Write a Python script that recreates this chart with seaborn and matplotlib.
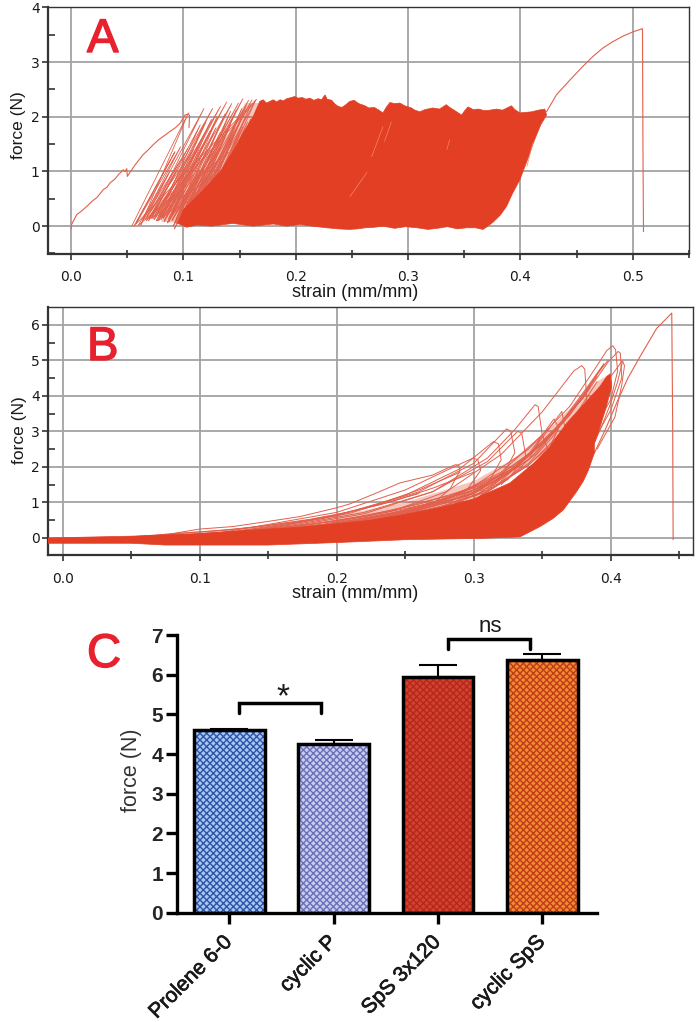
import matplotlib
matplotlib.use('Agg')
import matplotlib.pyplot as plt
import matplotlib.patheffects as pe
import matplotlib.transforms as mtrans
import pandas as pd
import seaborn as sns

# panel A, single pull before cycling and after the last cycle
a_load_strain = [0.0, 0.0005, 0.005, 0.009, 0.014, 0.019, 0.0229, 0.0288, 0.032, 0.0347, 0.039, 0.0421, 0.0465, 0.048, 0.0496, 0.0501, 0.053, 0.057, 0.0643, 0.069, 0.0732, 0.078, 0.0821, 0.088, 0.093, 0.097, 0.1014, 0.1044, 0.1055, 0.105]
a_load_force = [-0.05, 0.03, 0.21, 0.27, 0.36, 0.46, 0.52, 0.67, 0.71, 0.79, 0.86, 0.94, 1.03, 1.0, 1.05, 0.91, 1.0, 1.12, 1.31, 1.4, 1.49, 1.58, 1.64, 1.73, 1.8, 1.88, 2.03, 2.05, 2.02, 1.8]
a_fail_strain = [0.4232, 0.432, 0.444, 0.4555, 0.4644, 0.473, 0.482, 0.491, 0.5, 0.5086, 0.509, 0.5095]
a_fail_force = [2.09, 2.4, 2.67, 2.92, 3.1, 3.25, 3.37, 3.47, 3.55, 3.61, 1.5, -0.1]

# panel A, sparse cycles left of the solid block
a_base_strain = [0.054, 0.062, 0.069, 0.075, 0.08, 0.085, 0.09, 0.094, 0.098, 0.102, 0.105,
                 0.056, 0.058, 0.064, 0.068, 0.073, 0.078, 0.082, 0.086, 0.09, 0.094, 0.098,
                 0.06, 0.066, 0.072, 0.077, 0.082, 0.087, 0.092, 0.096, 0.1, 0.104,
                 0.071, 0.076, 0.081, 0.086, 0.091, 0.096, 0.101, 0.106, 0.11, 0.113, 0.116,
                 0.067, 0.07, 0.074, 0.078, 0.083, 0.088, 0.093, 0.097, 0.101,
                 0.079, 0.083, 0.087, 0.092, 0.097, 0.1, 0.104, 0.108, 0.112, 0.116, 0.12]
a_peak_strain = [0.1045, 0.1183, 0.126, 0.133, 0.1385, 0.143, 0.149, 0.153, 0.158, 0.161, 0.165,
                 0.0925, 0.0975, 0.104, 0.109, 0.113, 0.118, 0.122, 0.127, 0.132, 0.136, 0.14,
                 0.088, 0.094, 0.1, 0.105, 0.109, 0.114, 0.119, 0.124, 0.128, 0.132,
                 0.115, 0.12, 0.125, 0.13, 0.137, 0.142, 0.147, 0.152, 0.156, 0.16, 0.163,
                 0.084, 0.087, 0.092, 0.096, 0.101, 0.106, 0.111, 0.115, 0.119,
                 0.119, 0.124, 0.129, 0.133, 0.138, 0.142, 0.146, 0.15, 0.153, 0.157, 0.16]
a_peak_force = [2.07, 2.15, 2.15, 2.19, 2.27, 2.24, 2.25, 2.33, 2.3, 2.31, 2.32,
                1.36, 1.45, 1.42, 1.4, 1.42, 1.38, 1.4, 1.36, 1.42, 1.38, 1.35,
                1.0, 1.02, 0.98, 1.0, 0.96, 1.02, 0.98, 1.0, 0.95, 0.98,
                1.85, 1.9, 1.95, 2.0, 2.05, 2.1, 2.12, 2.15, 2.2, 2.22, 2.25,
                0.6, 0.62, 0.65, 0.62, 0.66, 0.6, 0.63, 0.65, 0.62,
                1.7, 1.75, 1.8, 1.72, 1.78, 1.85, 1.8, 1.88, 1.82, 1.9, 1.95]
a_base_force = [0.0, 0.02, 0.1, 0.15, 0.12, 0.18, 0.1, 0.15, 0.12, 0.08, 0.1,
                0.0, 0.05, 0.12, 0.18, 0.14, 0.1, 0.16, 0.08, 0.12, 0.05, 0.1,
                0.02, 0.12, 0.16, 0.1, 0.14, 0.08, -0.05, 0.1, 0.04, 0.08,
                0.14, 0.1, 0.16, 0.06, 0.0, 0.08, 0.05, 0.1, 0.02, 0.06, 0.08,
                0.1, 0.16, 0.12, 0.18, 0.1, 0.14, 0.06, 0.12, 0.08,
                0.16, 0.08, 0.14, 0.04, 0.1, 0.06, 0.1, 0.03, 0.08, 0.05, 0.08]

# panel A, outline of the solid block (top left to right, then back along the bottom)
a_block_strain = [0.095, 0.1, 0.115, 0.133, 0.145, 0.153, 0.162, 0.168, 0.171, 0.174, 0.177, 0.18, 0.183, 0.186, 0.189, 0.192, 0.196, 0.199, 0.202, 0.206, 0.209, 0.2126, 0.216, 0.22, 0.223, 0.226, 0.228, 0.232, 0.235, 0.2377, 0.241, 0.244, 0.248,
                  0.252, 0.256, 0.2616, 0.265, 0.27, 0.274, 0.2776, 0.2805, 0.2838, 0.288, 0.2927, 0.297, 0.303, 0.306, 0.3105, 0.315, 0.322, 0.328, 0.334, 0.337, 0.341, 0.3476, 0.35, 0.3533, 0.358, 0.3628, 0.368, 0.3728, 0.3787, 0.384, 0.392, 0.395, 0.3995, 0.405, 0.41, 0.416, 0.4217, 0.4232,
                  0.418, 0.412, 0.406, 0.3995, 0.393, 0.3876, 0.382, 0.376, 0.371, 0.3667, 0.36, 0.352, 0.344, 0.335, 0.326, 0.3176, 0.308, 0.2976, 0.288, 0.2776, 0.27, 0.262, 0.255, 0.248, 0.238, 0.2275, 0.215, 0.2037, 0.192, 0.18, 0.162, 0.144, 0.125, 0.112, 0.103]
a_block_force = [0.05, 0.3, 0.6, 1.0, 1.4, 1.7, 2.0, 2.28, 2.31, 2.25, 2.28, 2.31, 2.27, 2.31, 2.29, 2.33, 2.35, 2.37, 2.34, 2.35, 2.32, 2.34, 2.3, 2.33, 2.31, 2.4, 2.32, 2.3, 2.23, 2.19, 2.17, 2.21, 2.28,
                 2.3, 2.24, 2.2, 2.16, 2.17, 2.12, 2.07, 2.17, 2.26, 2.24, 2.25, 2.2, 2.16, 2.12, 2.09, 2.13, 2.16, 2.14, 2.22, 2.17, 2.12, 2.03, 2.1, 2.18, 2.13, 2.14, 2.11, 2.12, 2.14, 2.12, 2.2, 2.13, 2.07, 2.08, 2.09, 2.12, 2.14, 2.03,
                 1.85, 1.55, 1.2, 0.85, 0.6, 0.36, 0.2, 0.08, 0.0, -0.06, -0.03, -0.03, -0.05, -0.01, -0.04, -0.06, -0.03, -0.01, -0.04, 0.0, -0.02, -0.03, -0.05, -0.06, -0.05, -0.03, 0.0, 0.03, 0.0, 0.04, 0.0, 0.05, 0.0, 0.02, -0.02]
# thinner, half-filled zone in front of the block
a_haze_strain = [0.08, 0.085, 0.1, 0.117, 0.13, 0.14, 0.148, 0.155, 0.17, 0.15, 0.11]
a_haze_force = [0.08, 0.3, 0.6, 1.0, 1.4, 1.7, 2.0, 2.25, 2.25, 0.6, 0.05]
# pale streaks inside the block
a_streak_strain = [[0.2776, 0.2676], [0.2633, 0.2482], [0.337, 0.3345], [0.411, 0.4057], [0.285, 0.279]]
a_streak_force = [[1.82, 1.27], [0.98, 0.54], [1.58, 1.4], [1.52, 1.09], [1.9, 1.55]]

# panel B, outline of the solid block
b_block_strain = [-0.0107, 0.05, 0.1, 0.15, 0.173, 0.2, 0.225, 0.2462, 0.275, 0.3, 0.319, 0.3265, 0.3436, 0.3557, 0.3606, 0.368, 0.38, 0.392, 0.397, 0.3996, 0.4007,
                  0.396, 0.392, 0.388, 0.388, 0.3836, 0.38, 0.375, 0.3654, 0.358, 0.3484, 0.3338, 0.3068, 0.25, 0.2, 0.15, 0.075, 0.05, -0.0107]
b_block_force = [0.0, 0.05, 0.12, 0.25, 0.3, 0.4, 0.5, 0.64, 0.85, 1.1, 1.42, 1.55, 2.1, 2.57, 2.85, 3.24, 3.75, 4.26, 4.54, 4.62, 4.26,
                 3.6, 3.1, 2.67, 2.39, 1.9, 1.6, 1.3, 0.79, 0.55, 0.32, 0.03, -0.01, -0.05, -0.13, -0.2, -0.2, -0.15, -0.15]
# the packed lines just above the block
b_haze_strain = [0.07, 0.1, 0.15, 0.2, 0.25, 0.3, 0.33, 0.36, 0.39, 0.3996, 0.39, 0.36, 0.3, 0.2, 0.1]
b_haze_force = [0.05, 0.16, 0.36, 0.62, 1.0, 1.6, 2.25, 3.25, 4.4, 4.62, 4.0, 2.6, 1.0, 0.35, 0.05]

# panel B, single loops that stand clear of the block
b_loop_strain = [
    [0.05, 0.0765, 0.1, 0.124, 0.149, 0.173, 0.2, 0.2097, 0.228, 0.2462, 0.27, 0.28, 0.2864, 0.289, 0.29, 0.283, 0.27, 0.25],
    [0.1, 0.15, 0.2, 0.25, 0.28, 0.2996, 0.303, 0.305, 0.295, 0.27],
    [0.1, 0.15, 0.2, 0.25, 0.29, 0.3143, 0.318, 0.32, 0.31, 0.29],
    [0.11, 0.16, 0.21, 0.26, 0.30, 0.324, 0.327, 0.33, 0.32, 0.30],
    [0.12, 0.17, 0.22, 0.27, 0.31, 0.332, 0.335, 0.338, 0.325, 0.305],
    [0.12, 0.17, 0.22, 0.27, 0.31, 0.33, 0.3447, 0.347, 0.35, 0.34, 0.32],
    [0.14, 0.19, 0.24, 0.28, 0.32, 0.35, 0.365, 0.373, 0.3788, 0.381, 0.3825, 0.375, 0.36],
    [0.16, 0.21, 0.26, 0.3, 0.34, 0.37, 0.39, 0.397, 0.4014, 0.4035, 0.405, 0.4, 0.39],
    [0.18, 0.23, 0.28, 0.32, 0.35, 0.38, 0.398, 0.4054, 0.407, 0.408, 0.40, 0.39],
    [0.2, 0.25, 0.3, 0.34, 0.37, 0.39, 0.403, 0.4085, 0.41, 0.408, 0.403, 0.39],
    [0.22, 0.27, 0.31, 0.34, 0.3643, 0.367, 0.358],
    [0.12, 0.17, 0.22, 0.27, 0.31, 0.34, 0.36, 0.38, 0.395],
    [0.13, 0.18, 0.23, 0.28, 0.32, 0.35, 0.37, 0.39, 0.398],
    [0.15, 0.2, 0.25, 0.3, 0.33, 0.36, 0.38, 0.395],
    [0.15, 0.2, 0.25, 0.3, 0.34, 0.37, 0.39],
    [0.16, 0.21, 0.26, 0.31, 0.345, 0.37, 0.385],
    [0.17, 0.22, 0.27, 0.31, 0.34, 0.36],
    [0.13, 0.18, 0.23, 0.27, 0.3, 0.32],
    [0.14, 0.19, 0.24, 0.28, 0.31],
    [0.1, 0.15, 0.19, 0.23, 0.26, 0.29],
    [0.388, 0.395, 0.4, 0.405, 0.4085],
    [0.04, 0.08, 0.11, 0.14, 0.17, 0.2, 0.23, 0.26],
    [0.06, 0.09, 0.12, 0.15, 0.18, 0.21, 0.24, 0.27, 0.3],
    [0.2, 0.24, 0.28, 0.32, 0.35, 0.355, 0.345],
    [0.18, 0.22, 0.26, 0.3, 0.33, 0.36, 0.385],
    [0.16, 0.2, 0.24, 0.28, 0.32, 0.35, 0.38],
    [0.2, 0.24, 0.28, 0.31, 0.34, 0.37, 0.39],
    [0.1, 0.14, 0.18, 0.22, 0.26, 0.3, 0.33],
    [0.08, 0.12, 0.16, 0.2, 0.24, 0.28],
    [0.32, 0.34, 0.352, 0.3585, 0.362, 0.356],
]
b_loop_force = [
    [0.0, 0.1, 0.25, 0.32, 0.46, 0.6, 0.85, 0.96, 1.25, 1.55, 1.77, 1.95, 2.06, 2.05, 1.9, 1.4, 0.95, 0.7],
    [0.05, 0.38, 0.72, 1.35, 1.9, 2.25, 2.2, 1.9, 1.35, 0.9],
    [0.05, 0.32, 0.62, 1.2, 1.95, 2.71, 2.65, 2.2, 1.5, 1.05],
    [0.1, 0.35, 0.7, 1.3, 2.1, 3.07, 3.0, 2.4, 1.7, 1.15],
    [0.1, 0.38, 0.72, 1.3, 2.15, 3.0, 2.95, 2.3, 1.65, 1.2],
    [0.1, 0.35, 0.68, 1.3, 2.25, 3.05, 3.75, 3.7, 2.9, 2.2, 1.5],
    [0.15, 0.38, 0.75, 1.3, 2.35, 3.55, 4.3, 4.7, 4.85, 4.75, 3.9, 3.1, 2.3],
    [0.2, 0.42, 0.85, 1.45, 2.5, 3.7, 4.85, 5.27, 5.41, 5.3, 4.7, 3.9, 3.2],
    [0.2, 0.42, 0.9, 1.7, 2.65, 3.95, 4.95, 5.25, 5.2, 4.5, 3.6, 2.9],
    [0.2, 0.5, 1.05, 2.05, 3.1, 4.05, 4.7, 4.99, 4.85, 4.3, 3.4, 2.5],
    [0.3, 0.7, 1.35, 2.3, 3.56, 3.0, 2.5],
    [0.1, 0.32, 0.6, 0.98, 1.55, 2.35, 3.1, 4.0, 4.9],
    [0.15, 0.3, 0.56, 0.98, 1.7, 2.7, 3.5, 4.6, 5.0],
    [0.2, 0.42, 0.78, 1.35, 2.0, 3.05, 4.1, 4.9],
    [0.18, 0.4, 0.72, 1.25, 2.2, 3.45, 4.55],
    [0.2, 0.4, 0.78, 1.4, 2.35, 3.5, 4.3],
    [0.2, 0.46, 0.82, 1.3, 2.1, 2.95],
    [0.1, 0.32, 0.55, 0.88, 1.25, 1.7],
    [0.2, 0.38, 0.66, 1.05, 1.5],
    [0.05, 0.28, 0.55, 0.95, 1.35, 1.85],
    [2.67, 3.3, 3.8, 4.4, 4.95],
    [0.0, 0.12, 0.2, 0.3, 0.45, 0.65, 0.92, 1.25],
    [0.02, 0.14, 0.22, 0.36, 0.52, 0.74, 1.02, 1.4, 1.85],
    [0.35, 0.62, 1.1, 1.85, 2.9, 2.4, 1.9],
    [0.3, 0.52, 0.85, 1.35, 1.95, 3.0, 4.25],
    [0.22, 0.42, 0.7, 1.1, 1.8, 2.65, 3.95],
    [0.35, 0.6, 0.92, 1.35, 2.05, 3.2, 4.4],
    [0.12, 0.22, 0.38, 0.62, 0.95, 1.42, 1.95],
    [0.08, 0.16, 0.28, 0.48, 0.78, 1.18],
    [1.6, 2.35, 3.0, 3.35, 3.1, 2.6],
]
b_fail_strain = [0.388, 0.396, 0.4043, 0.4125, 0.4213, 0.4335, 0.44, 0.4445, 0.4452, 0.4455]
b_fail_force = [2.39, 3.05, 3.8, 4.5, 5.1, 5.9, 6.15, 6.33, 3.0, -0.05]

# panel C
groups = ['Prolene 6-0', 'cyclic P', 'SpS 3x120', 'cyclic SpS']
mean_force = [4.6, 4.25, 5.95, 6.38]
err_force = [0.03, 0.1, 0.3, 0.15]
light_cols = ['#a9c6f4', '#c9ccf0', '#d8402e', '#f08c2e']
dark_cols = ['#2c55a6', '#6a70b8', '#b02a1e', '#c23a1c']

RED = '#e33f24'
THIN = '#e2604c'
LETTER = '#e8212e'
W, H = 698, 1022


def make_axes(left, top, right, bottom):
    return fig.add_axes([left / W, 1 - bottom / H, (right - left) / W, (bottom - top) / H])


def style_trace_axes(ax):
    ax.grid(True, which='major', color='#a3a3a3', lw=1.3)
    ax.set_axisbelow(True)
    ax.tick_params(axis='both', which='major', labelsize=10, length=4, width=1.2, color='#333333', labelcolor='#1a1a1a')
    ax.tick_params(axis='x', which='major', direction='out', pad=8)
    ax.tick_params(axis='x', which='minor', direction='inout', length=6, width=1.2, color='#333333')
    ax.tick_params(axis='y', which='minor', direction='in', length=5, width=1.2, color='#333333')
    ax.tick_params(axis='y', which='major', pad=2)
    for name, sp in ax.spines.items():
        sp.set_visible(True)
        sp.set_color('#333333')
        sp.set_linewidth(1.0)
    ax.spines['left'].set_linewidth(1.6)
    ax.spines['bottom'].set_linewidth(1.6)


def labels(ax, xlab_x, xlab_y, ylab_x, ylab_y):
    ax.set_xlabel('strain (mm/mm)', fontsize=13, family='Liberation Sans', color='#1a1a1a')
    ax.set_ylabel('force (N)', fontsize=12.5, family='Liberation Sans', color='#1a1a1a')
    ax.xaxis.set_label_coords(xlab_x, xlab_y)
    ax.yaxis.set_label_coords(ylab_x, ylab_y)


def panel_letter(txt, x, y):
    t = fig.text(x / W, 1 - y / H, txt, fontsize=34, color=LETTER, family='Liberation Sans')
    t.set_path_effects([pe.withStroke(linewidth=1.0, foreground=LETTER)])


sns.set_theme(style='ticks')
plt.rcParams['font.family'] = ['DejaVu Sans']
plt.rcParams['hatch.linewidth'] = 1.0

fig = plt.figure(figsize=(W / 100, H / 100), dpi=100, facecolor='white')

# ---------- A ----------
axA = make_axes(48, 7.3, 689, 253.5)
rows = []
for i in range(len(a_base_strain)):
    next_i = min(i + 1, len(a_base_strain) - 1)
    rows.append((i, a_base_strain[i], a_base_force[i]))
    rows.append((i, a_peak_strain[i], a_peak_force[i]))
    rows.append((i, a_base_strain[next_i], a_base_force[next_i]))
cyc = pd.DataFrame(rows, columns=['cycle', 'strain', 'force'])
axA.fill(a_haze_strain, a_haze_force, color=RED, alpha=0.3, lw=0, zorder=1.5)
sns.lineplot(data=cyc, x='strain', y='force', units='cycle', estimator=None, sort=False,
             color=THIN, lw=0.6, ax=axA)
axA.fill(a_block_strain, a_block_force, color=RED, lw=0.5, zorder=3)
for s, f in zip(a_streak_strain, a_streak_force):
    axA.plot(s, f, color='#ee8a70', lw=0.5, zorder=3.5)
sns.lineplot(x=a_load_strain, y=a_load_force, sort=False, estimator=None, color=THIN, lw=0.8, ax=axA)
sns.lineplot(x=a_fail_strain, y=a_fail_force, sort=False, estimator=None, color=THIN, lw=0.8, ax=axA)
axA.set_xlim(-0.0205, 0.55)
axA.set_ylim(-0.49, 4)
axA.set_xticks([0.0, 0.1, 0.2, 0.3, 0.4, 0.5])
axA.set_xticks([0.05, 0.15, 0.25, 0.35, 0.45, 0.55], minor=True)
axA.set_yticks([0, 1, 2, 3, 4])
axA.set_yticks([-0.5, 0.5, 1.5, 2.5, 3.5], minor=True)
style_trace_axes(axA)
labels(axA, 0.479, -0.122, -0.034, 0.52)
panel_letter('A', 87, 52)

# ---------- B ----------
axB = make_axes(48, 307, 693, 555)
rows = []
for i in range(len(b_loop_strain)):
    for s, f in zip(b_loop_strain[i], b_loop_force[i]):
        rows.append((i, s, f))
loops = pd.DataFrame(rows, columns=['loop', 'strain', 'force'])
axB.fill(b_haze_strain, b_haze_force, color=RED, alpha=0.3, lw=0, zorder=1.5)
sns.lineplot(data=loops, x='strain', y='force', units='loop', estimator=None, sort=False,
             color=THIN, lw=0.7, ax=axB)
axB.fill(b_block_strain, b_block_force, color=RED, lw=0.5, zorder=3)
sns.lineplot(x=b_fail_strain, y=b_fail_force, sort=False, estimator=None, color=THIN, lw=0.8, ax=axB)
axB.set_xlim(-0.0107, 0.46)
axB.set_ylim(-0.48, 6.5)
axB.set_xticks([0.0, 0.1, 0.2, 0.3, 0.4])
axB.set_xticks([0.05, 0.15, 0.25, 0.35, 0.45], minor=True)
axB.set_yticks([0, 1, 2, 3, 4, 5, 6])
axB.set_yticks([0.5, 1.5, 2.5, 3.5, 4.5, 5.5], minor=True)
style_trace_axes(axB)
labels(axB, 0.476, -0.121, -0.033, 0.504)
panel_letter('B', 87, 360)

# ---------- C ----------
axC = make_axes(177, 635, 597, 912.7)
bars = pd.DataFrame({'group': groups, 'force': mean_force})
# two passes because the hatch takes the edge colour: checks first, black outline on top
sns.barplot(data=bars, x='group', y='force', width=0.68, color='white', linewidth=0, ax=axC, zorder=2)
for patch, light, dark in zip(axC.patches, light_cols, dark_cols):
    patch.set_facecolor(light)
    patch.set_edgecolor(dark)
    patch.set_hatch('x' * 5)
    patch.set_linewidth(0)
sns.barplot(data=bars, x='group', y='force', width=0.68, fill=False, edgecolor='black', linewidth=2.5, ax=axC, zorder=3)
axC.errorbar(range(len(groups)), mean_force, yerr=[[0] * 4, err_force], fmt='none', ecolor='black',
             elinewidth=1.5, capsize=13.5, capthick=1.5, zorder=2.5)
axC.plot([0.09, 0.09, 0.875, 0.875], [5.03, 5.29, 5.29, 5.03], color='black', lw=2.5, clip_on=False,
         solid_joinstyle='miter')
axC.plot([2.095, 2.095, 2.88, 2.88], [6.64, 6.9, 6.9, 6.64], color='black', lw=2.5, clip_on=False,
         solid_joinstyle='miter')
axC.text(0.51, 5.42, '*', fontsize=24, ha='center', va='center', family='Liberation Sans', color='#1a1a1a')
axC.text(2.5, 6.95, 'ns', fontsize=16, ha='center', va='bottom', family='Liberation Sans', color='#1a1a1a',
         clip_on=False)
axC.set_xlim(-0.503, 3.525)
axC.set_ylim(0, 7)
axC.set_yticks(range(8))
axC.set_xlabel('')
axC.set_ylabel('force (N)', fontsize=15.5, family='Liberation Sans', color='#333333')
axC.yaxis.set_label_coords(-0.084, 0.514)
sns.despine(ax=axC)
for name in ['left', 'bottom']:
    axC.spines[name].set_linewidth(2.4)
    axC.spines[name].set_color('black')
axC.tick_params(axis='both', length=8, width=2.4, color='black')
for lab in axC.get_yticklabels():
    lab.set_fontsize(15)
    lab.set_fontweight('bold')
    lab.set_family('Liberation Sans')
axC.tick_params(axis='y', pad=2)
axC.set_xticks(range(4))
axC.set_xticklabels(groups, rotation=45, ha='right', rotation_mode='anchor', fontsize=15,
                    family='Liberation Sans', color='#1a1a1a')
axC.tick_params(axis='x', pad=6)
shift = mtrans.ScaledTranslation(-7 / 100, 0, fig.dpi_scale_trans)
for lab in axC.get_xticklabels():
    lab.set_transform(lab.get_transform() + shift)
    lab.set_path_effects([pe.withStroke(linewidth=0.5, foreground='#1a1a1a')])
panel_letter('C', 87, 667)

fig.savefig('out.png', dpi=100)
